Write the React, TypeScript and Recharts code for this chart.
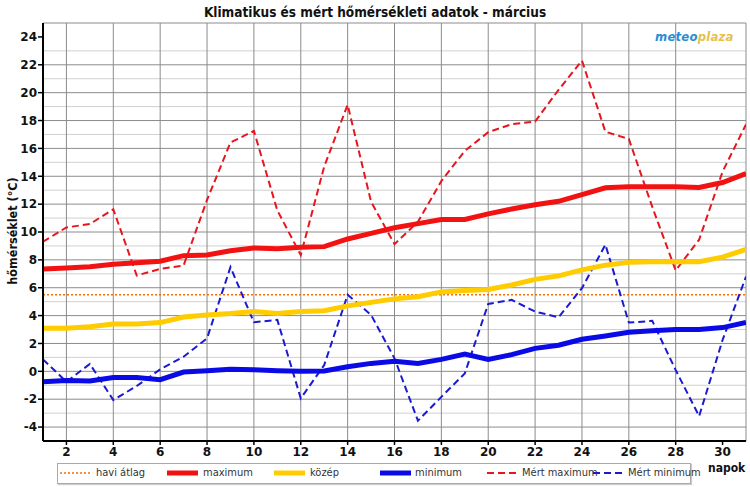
import { LineChart, Line, XAxis, YAxis, CartesianGrid, ReferenceLine } from "recharts";

const DAYS = [1, 2, 3, 4, 5, 6, 7, 8, 9, 10, 11, 12, 13, 14, 15, 16, 17, 18, 19, 20, 21, 22, 23, 24, 25, 26, 27, 28, 29, 30, 31];

const CLIM_MAX = [7.34, 7.42, 7.5, 7.68, 7.8, 7.9, 8.3, 8.35, 8.65, 8.85, 8.8, 8.9, 8.95, 9.5, 9.9, 10.3, 10.6, 10.9, 10.9, 11.3, 11.65, 11.95, 12.2, 12.68, 13.17, 13.25, 13.25, 13.25, 13.2, 13.55, 14.2];
const CLIM_MEAN = [3.1, 3.1, 3.2, 3.4, 3.4, 3.5, 3.9, 4.05, 4.15, 4.3, 4.15, 4.3, 4.35, 4.7, 4.95, 5.2, 5.35, 5.7, 5.8, 5.88, 6.2, 6.6, 6.85, 7.28, 7.62, 7.82, 7.87, 7.87, 7.87, 8.2, 8.75];
const CLIM_MIN = [-0.75, -0.65, -0.7, -0.45, -0.45, -0.6, -0.05, 0.05, 0.15, 0.12, 0.05, 0.0, 0.02, 0.33, 0.57, 0.72, 0.57, 0.86, 1.24, 0.86, 1.2, 1.65, 1.87, 2.3, 2.54, 2.8, 2.92, 3.0, 3.0, 3.14, 3.5];
const MEAS_MAX = [9.3, 10.33, 10.57, 11.63, 6.88, 7.35, 7.6, 12.3, 16.42, 17.26, 11.55, 8.34, 14.7, 19.13, 12.17, 9.13, 10.73, 13.66, 15.82, 17.16, 17.74, 17.93, 20.2, 22.3, 17.2, 16.68, 11.8, 7.24, 9.45, 14.33, 17.72];
const MEAS_MIN = [0.86, -0.75, 0.53, -2.06, -1.05, 0.14, 1.05, 2.37, 7.48, 3.52, 3.69, -1.94, 0.45, 5.49, 4.05, 0.93, -3.55, -1.83, -0.15, 4.84, 5.13, 4.29, 3.88, 5.97, 9.09, 3.5, 3.62, 0.09, -3.22, 2.25, 6.8];
const MONTHLY_AVG = 5.5;

const X_TICKS = [2, 4, 6, 8, 10, 12, 14, 16, 18, 20, 22, 24, 26, 28, 30];
const Y_TICKS = [-4, -2, 0, 2, 4, 6, 8, 10, 12, 14, 16, 18, 20, 22, 24];
const Y_MINOR = [-5, -3, -1, 1, 3, 5, 7, 9, 11, 13, 15, 17, 19, 21, 23];
const Y_MAJOR = [-4, -2, 0, 2, 4, 6, 8, 10, 12, 14, 16, 18, 20, 22, 24, 25];
const X_GRID = [2, 4, 6, 8, 10, 12, 14, 16, 18, 20, 22, 24, 26, 28, 30, 31];

const data = DAYS.map((d, i) => ({
  day: d,
  max: CLIM_MAX[i],
  mean: CLIM_MEAN[i],
  min: CLIM_MIN[i],
  mmax: MEAS_MAX[i],
  mmin: MEAS_MIN[i],
}));

const FONT = "'DejaVu Sans Condensed', 'DejaVu Sans', sans-serif";
const tickStyle = { fontSize: 12, fontWeight: 700, fill: "#111", fontFamily: "'DejaVu Sans', sans-serif" };

const legendItems = [
  { label: "havi átlag", color: "#ff6a00", width: 1.5, dash: "2 2", left: 60, textLeft: 96 },
  { label: "maximum", color: "#f21212", width: 5, dash: undefined, left: 167, textLeft: 203 },
  { label: "közép", color: "#ffcc00", width: 5, dash: undefined, left: 274, textLeft: 310 },
  { label: "minimum", color: "#0a0ae6", width: 5, dash: undefined, left: 380, textLeft: 415 },
  { label: "Mért maximum", color: "#e8141e", width: 2, dash: "7 4", left: 487, textLeft: 522 },
  { label: "Mért minimum", color: "#1a1ad0", width: 2, dash: "7 4", left: 593, textLeft: 628 },
];

export default function App() {
  return (
    <div style={{ position: "absolute", left: 0, top: 0, width: 750, height: 487, background: "#fff", fontFamily: FONT }}>
      <div style={{ position: "absolute", top: 4, left: 0, width: 750, textAlign: "center", fontSize: 13.5, fontWeight: 700, color: "#111" }}>
        Klimatikus és mért hőmérsékleti adatok - március
      </div>
      <LineChart width={750} height={487} data={data} margin={{ top: 23, right: 4, bottom: 26, left: 0 }}>
        <CartesianGrid stroke="#d0d0d0" strokeWidth={1} horizontalValues={Y_MINOR} vertical={false} />
        <CartesianGrid stroke="#8c8c8c" strokeWidth={1} horizontalValues={Y_MAJOR} verticalValues={X_GRID} />
        <XAxis
          type="number"
          dataKey="day"
          domain={[1, 31]}
          ticks={X_TICKS}
          height={20}
          tick={tickStyle}
          tickLine={{ stroke: "#000", strokeWidth: 1.5 }}
          tickSize={4}
          axisLine={{ stroke: "#000", strokeWidth: 2 }}
          allowDataOverflow
        />
        <YAxis
          type="number"
          domain={[-5, 25]}
          ticks={Y_TICKS}
          width={43}
          tick={tickStyle}
          tickSize={5}
          tickMargin={1}
          tickLine={{ stroke: "#000", strokeWidth: 1.5 }}
          axisLine={{ stroke: "#000", strokeWidth: 2 }}
          allowDataOverflow
        />
        <ReferenceLine y={MONTHLY_AVG} stroke="#ff6a00" strokeWidth={1.5} strokeDasharray="2 2" />
        <Line dataKey="mmax" stroke="#e8141e" strokeWidth={2} strokeDasharray="7 4" dot={false} isAnimationActive={false} />
        <Line dataKey="mmin" stroke="#1a1ad0" strokeWidth={2} strokeDasharray="7 4" dot={false} isAnimationActive={false} />
        <Line dataKey="max" stroke="#f21212" strokeWidth={5} dot={false} isAnimationActive={false} />
        <Line dataKey="mean" stroke="#ffcc00" strokeWidth={5} dot={false} isAnimationActive={false} />
        <Line dataKey="min" stroke="#0a0ae6" strokeWidth={5} dot={false} isAnimationActive={false} />
      </LineChart>
      <div
        style={{
          position: "absolute",
          left: 0,
          top: 231,
          transform: "translate(-50%, -50%) rotate(-90deg)",
          marginLeft: 12,
          whiteSpace: "nowrap",
          fontSize: 12.5,
          fontWeight: 700,
          color: "#111",
        }}
      >
        hőmérséklet (°C)
      </div>
      <div style={{ position: "absolute", left: 655, top: 29, fontSize: 13, fontWeight: 700, fontStyle: "italic", letterSpacing: 0.2 }}>
        <span style={{ color: "#2a8ed4" }}>meteo</span>
        <span style={{ color: "#e6c24a" }}>plaza</span>
      </div>
      <div
        style={{
          position: "absolute",
          left: 57,
          top: 463,
          width: 632,
          height: 19,
          border: "1px solid #aaa",
          boxShadow: "1px 1px 1px #ccc",
          background: "#fff",
        }}
      />
      {legendItems.map((it) => (
        <div key={it.label}>
          <svg style={{ position: "absolute", left: it.left, top: 468 }} width={32} height={10}>
            <line x1={0} y1={5} x2={31} y2={5} stroke={it.color} strokeWidth={it.width} strokeDasharray={it.dash} />
          </svg>
          <div style={{ position: "absolute", left: it.textLeft, top: 466, fontSize: 11, color: "#333", whiteSpace: "nowrap" }}>
            {it.label}
          </div>
        </div>
      ))}
      <div style={{ position: "absolute", left: 708, top: 461, fontSize: 12, fontWeight: 700, color: "#111" }}>napok</div>
    </div>
  );
}
